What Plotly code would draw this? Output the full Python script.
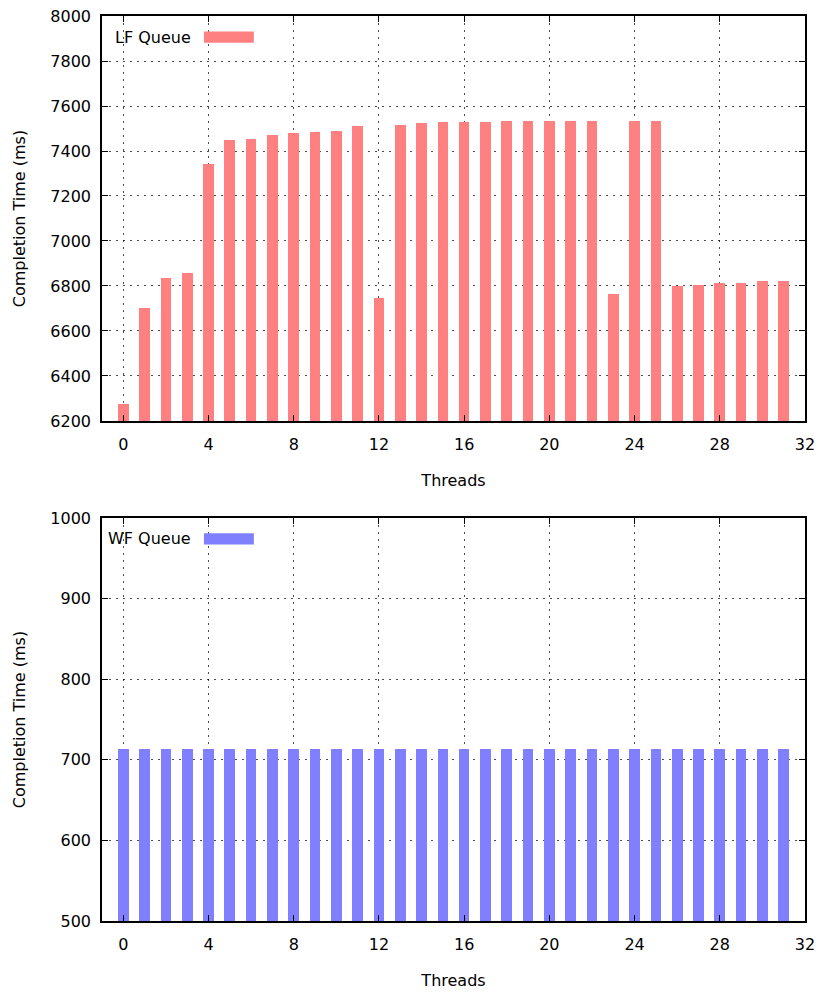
import plotly.graph_objects as go
from plotly.subplots import make_subplots

threads = list(range(32))
lf_queue = [6276, 6702, 6836, 6858, 7342, 7449, 7453, 7471, 7480, 7484, 7489, 7511,
            6747, 7516, 7524, 7529, 7529, 7529, 7533, 7533, 7533, 7533, 7533, 6764,
            7533, 7533, 6800, 6804, 6813, 6813, 6822, 6822]
wf_queue = [713, 714, 713, 713, 713, 714, 713, 714, 713, 713, 714, 713,
            714, 714, 714, 713, 713, 713, 713, 714, 713, 713, 714, 714,
            714, 714, 713, 714, 714, 713, 713, 714]
x_ticks = [0, 4, 8, 12, 16, 20, 24, 28, 32]
lf_yticks = [6200, 6400, 6600, 6800, 7000, 7200, 7400, 7600, 7800, 8000]
wf_yticks = [500, 600, 700, 800, 900, 1000]

LF_COLOR = "#ff8080"
WF_COLOR = "#8080ff"
FONT = "DejaVu Sans"

fig = make_subplots(rows=2, cols=1, vertical_spacing=0.107)
fig.add_trace(go.Bar(x=threads, y=lf_queue, base=0, width=0.5, marker_color=LF_COLOR,
                     marker_line_width=0, name="LF Queue", showlegend=False), row=1, col=1)
fig.add_trace(go.Bar(x=threads, y=wf_queue, width=0.5, marker_color=WF_COLOR,
                     marker_line_width=0, name="WF Queue", showlegend=False), row=2, col=1)

axis_common = dict(
    showline=True, linecolor="black", linewidth=1.5, mirror="allticks",
    ticks="inside", ticklen=6, tickcolor="black", tickwidth=1,
    showgrid=True, gridcolor="rgba(0,0,0,0.7)", griddash="2px,5px", gridwidth=1,
    zeroline=False, tickfont=dict(family=FONT, size=16, color="black"),
    automargin=False,
)
for r in (1, 2):
    fig.update_xaxes(range=[-1, 32], tickvals=x_ticks, ticktext=[str(v) for v in x_ticks],
                     ticklabelstandoff=8,
                     title=dict(text="Threads", font=dict(family=FONT, size=16, color="black"), standoff=22),
                     row=r, col=1, **axis_common)
fig.update_yaxes(range=[6200, 8000], tickvals=lf_yticks, row=1, col=1, ticklabelstandoff=6,
                 title=dict(text="Completion Time (ms)", font=dict(family=FONT, size=16, color="black"), standoff=21),
                 **axis_common)
fig.update_yaxes(range=[500, 1000], tickvals=wf_yticks, row=2, col=1, ticklabelstandoff=6,
                 title=dict(text="Completion Time (ms)", font=dict(family=FONT, size=16, color="black"), standoff=21),
                 **axis_common)

fig.update_layout(
    template="none",
    width=823, height=997,
    margin=dict(l=102, r=18, t=16, b=76, pad=0),
    plot_bgcolor="white", paper_bgcolor="white",
    font=dict(family=FONT, size=16, color="black"),
    bargap=0,
)
fig.update_yaxes(domain=[0.5525, 1.0], row=1, col=1)
fig.update_yaxes(domain=[0.0, 0.4453], row=2, col=1)

# gnuplot-style key: label then sample box
for label, color, yref in [("LF Queue", LF_COLOR, "y domain"),
                           ("WF Queue", WF_COLOR, "y2 domain")]:
    xref = "x domain" if yref == "y domain" else "x2 domain"
    fig.add_annotation(text=label, xref=xref, yref=yref, x=0.130, y=0.948, xanchor="right",
                       yanchor="middle", showarrow=False, font=dict(family=FONT, size=16, color="black"))
    fig.add_shape(type="rect", xref=xref, yref=yref, x0=0.145, x1=0.216,
                  y0=0.934, y1=0.962, fillcolor=color, line_width=0)

fig.write_html("out.html")
